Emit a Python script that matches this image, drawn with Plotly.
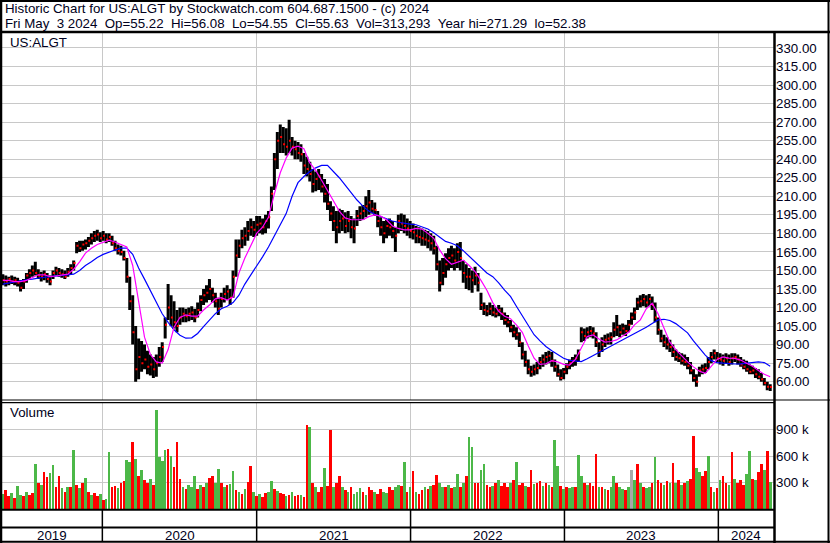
import plotly.graph_objects as go
import pandas as pd

# ---------------- data (weekly) ----------------
START_WEEK = "2019-05-10"

HIGH = [
    147, 146, 145, 146, 145, 144, 142, 143, 148, 151,
    154, 157, 151, 149, 150, 148, 146, 150, 153, 152,
    151, 150, 152, 155, 158, 173, 174, 174, 175, 177,
    180, 182, 183, 181, 182, 180, 180, 178, 174, 171,
    170, 166, 160, 145, 130, 105, 95, 93, 90, 85,
    82, 80, 82, 88, 92, 112, 139, 130, 125, 118,
    120, 120, 119, 120, 121, 119, 124, 130, 135, 138,
    143, 136, 132, 128, 132, 136, 138, 135, 150, 175,
    175, 183, 185, 190, 192, 190, 194, 194, 192, 195,
    198, 218, 245, 262, 268, 266, 265, 272, 258, 255,
    254, 252, 245, 242, 238, 232, 230, 232, 228, 224,
    220, 206, 202, 198, 200, 199, 197, 198, 194, 192,
    199, 202, 203, 210, 215, 207, 205, 198, 193, 190,
    191, 192, 190, 185, 195, 196, 195, 192, 190, 188,
    186, 185, 184, 183, 182, 180, 178, 170, 158, 160,
    164, 168, 170, 168, 172, 173, 158, 155, 152, 150,
    153, 148, 132, 124, 122, 124, 122, 120, 122, 120,
    116, 114, 110, 106, 104, 100, 92, 85, 78, 73,
    74, 76, 80, 82, 84, 85, 84, 78, 74, 70,
    71, 75, 78, 80, 82, 86, 104, 103, 104, 105,
    104, 100, 92, 96, 98, 99, 100, 108, 114, 106,
    107, 106, 110, 116, 120, 128, 130, 131, 130, 131,
    129, 124, 112, 102, 98, 96, 94, 90, 86, 84,
    83, 82, 80, 76, 70, 66, 72, 74, 75, 80,
    84, 86, 84, 83, 82, 83, 82, 83, 83, 82,
    80, 78, 77, 74, 73, 71, 70, 67, 63, 60,
    58,
]

LOW = [
    138, 137, 138, 139, 138, 137, 133, 135, 140, 143,
    145, 146, 143, 141, 142, 140, 138, 143, 146, 145,
    144, 143, 145, 147, 150, 164, 165, 166, 167, 169,
    171, 173, 174, 173, 174, 172, 173, 170, 166, 163,
    162, 158, 140, 118, 90, 60, 62, 68, 70, 66,
    65, 63, 64, 72, 76, 95, 110, 105, 103, 100,
    106, 108, 108, 109, 110, 108, 112, 117, 122, 124,
    126, 124, 120, 114, 120, 124, 126, 122, 128, 145,
    160, 168, 170, 174, 178, 177, 178, 180, 179, 180,
    184, 198, 215, 232, 245, 245, 243, 245, 243, 240,
    240, 238, 228, 226, 222, 213, 214, 215, 213, 205,
    199, 190, 182, 172, 180, 182, 180, 181, 176, 172,
    186, 190, 191, 193, 195, 196, 194, 185, 178, 172,
    176, 178, 176, 165, 180, 182, 180, 178, 176, 175,
    172, 172, 170, 170, 168, 166, 163, 150, 133, 138,
    144, 150, 152, 150, 152, 150, 140, 135, 134, 132,
    138, 133, 118, 114, 113, 114, 113, 112, 113, 110,
    106, 104, 100, 96, 94, 88, 78, 72, 66, 64,
    65, 66, 70, 72, 74, 75, 72, 68, 64, 61,
    62, 66, 70, 72, 73, 76, 92, 93, 95, 96,
    95, 88, 80, 84, 88, 90, 90, 96, 97, 96,
    98, 97, 100, 106, 110, 118, 120, 121, 120, 121,
    118, 108, 98, 92, 88, 86, 84, 80, 77, 76,
    74, 73, 70, 66, 60, 56, 64, 66, 67, 70,
    75, 78, 76, 74, 73, 75, 73, 74, 76, 74,
    72, 70, 68, 66, 66, 63, 62, 60, 57, 53,
    52.38,
]

CLOSE = [
    142, 141, 143, 141, 142, 140, 136, 141, 146, 148,
    150, 148, 146, 145, 147, 143, 141, 148, 150, 148,
    147, 145, 149, 152, 156, 170, 168, 171, 172, 174,
    176, 178, 179, 176, 178, 175, 177, 172, 168, 166,
    165, 160, 145, 125, 100, 70, 80, 75, 78, 72,
    74, 70, 75, 80, 88, 106, 120, 112, 108, 105,
    112, 115, 113, 115, 116, 112, 118, 126, 130, 132,
    135, 130, 125, 119, 127, 131, 133, 128, 145, 162,
    170, 176, 178, 182, 185, 183, 187, 188, 185, 190,
    193, 212, 240, 255, 258, 252, 250, 255, 250, 248,
    245, 244, 235, 232, 228, 220, 224, 226, 218, 212,
    204, 196, 190, 185, 190, 192, 186, 190, 185, 184,
    194, 196, 198, 202, 205, 200, 199, 190, 185, 180,
    186, 185, 182, 178, 190, 188, 186, 184, 182, 181,
    178, 177, 176, 175, 174, 172, 168, 155, 140, 148,
    155, 160, 162, 158, 165, 160, 148, 145, 145, 142,
    146, 140, 122, 118, 117, 119, 116, 115, 118, 115,
    110, 108, 104, 100, 98, 92, 82, 76, 70, 68,
    70, 71, 76, 78, 80, 81, 77, 72, 66, 63,
    68, 72, 75, 77, 79, 83, 100, 97, 100, 101,
    99, 92, 85, 90, 94, 95, 96, 102, 104, 100,
    103, 101, 106, 112, 116, 124, 125, 127, 124, 127,
    122, 112, 102, 95, 92, 90, 88, 84, 80, 79,
    77, 76, 73, 69, 63, 60, 69, 70, 71, 76,
    80, 83, 79, 78, 77, 79, 76, 79, 80, 78,
    74, 72, 70, 68, 69, 66, 64, 62, 59, 56,
    55.63,
]

# moving averages, read every second week
MA_SHORT = [
    142, 142, 141, 141, 142, 144, 146.5, 146.5, 145, 145.5,
    146.5, 147, 151, 157, 164, 168, 171, 173, 174.5, 173,
    171, 169, 154, 125, 96, 82, 76, 75, 86, 104,
    112, 114, 113, 113, 118, 122, 127, 128, 126, 128.5,
    148, 160, 170, 180, 185, 193, 212, 229, 241, 249,
    250.5, 248.5, 237, 231, 223, 215, 206, 198, 192.5, 191,
    191, 191, 193.5, 195, 194, 191, 186, 184, 182.8, 182.8,
    184, 183.5, 180, 176, 166.6, 159.5, 155, 156.5, 158.4, 154,
    149, 142, 134, 124, 117, 113, 111, 106, 100, 89,
    79, 74, 74.5, 77, 76, 74, 73.5, 78, 87, 96.5,
    97.8, 94.5, 92, 92.5, 93.8, 97, 100, 106, 110, 119,
    123.5, 115, 103, 92, 86, 81, 76, 72, 68.5, 66.8,
    72, 78, 80, 79, 78.8, 77.5, 75, 72.5, 69, 66,
    64,
]

MA_LONG = [
    139, 140, 141, 142, 142.5, 143, 144, 144.5, 145, 145.5,
    146, 146.2, 147, 150, 154, 157, 160.5, 163, 165, 166.5,
    168, 168, 163, 152, 143, 134, 124, 115, 108, 102,
    97.6, 95.2, 95.5, 99, 104.5, 110, 115, 119, 121, 124,
    130, 139, 146, 153, 161, 169, 178, 186, 196, 210,
    221, 226, 230, 233, 235, 235, 230, 225, 219, 213,
    207, 202, 198, 195.5, 193.5, 191.5, 190, 189, 188, 187.5,
    187, 185.5, 183.5, 180.5, 177, 173.5, 172, 170, 166, 161.5,
    157, 152, 148, 145, 140, 134, 129, 121, 113, 105,
    98, 93, 88.5, 85, 82, 79, 77.3, 76.5, 76.3, 78.5,
    81, 83.5, 86, 88.5, 91, 93.5, 96, 98.5, 101, 104,
    107, 110, 110.5, 109.5, 107, 103.5, 99.5, 93, 87.5, 81.5,
    77, 75.5, 75, 74.5, 74.3, 74.5, 74.9, 75.5, 76, 75.5,
    72.5,
]

# volume in thousands (weekly peak) and bar direction (u=up, d=down, n=unchanged)
VOLUME_K = [
    180, 226, 150, 190, 130, 264, 170, 150, 200, 160,
    190, 516, 300, 280, 422, 365, 415, 505, 260, 377,
    240, 200, 250, 260, 679, 280, 240, 300, 354, 200,
    160, 190, 150, 180, 110, 120, 648, 250, 262, 240,
    300, 328, 566, 540, 762, 573, 385, 452, 330, 300,
    350, 280, 1131, 592, 554, 679, 686, 611, 479, 769,
    347, 260, 230, 280, 250, 385, 230, 280, 250, 300,
    360, 385, 300, 460, 300, 250, 280, 290, 441, 220,
    200, 180, 230, 317, 490, 200, 150, 180, 140, 190,
    200, 328, 230, 210, 190, 180, 150, 160, 200, 150,
    170, 160, 140, 961, 931, 300, 250, 200, 250, 467,
    270, 905, 250, 300, 385, 260, 220, 200, 250, 180,
    200, 240, 200, 170, 250, 220, 200, 180, 230, 200,
    190, 250, 220, 260, 280, 270, 543, 200, 250, 441,
    200, 180, 220, 250, 230, 270, 280, 392, 300, 260,
    250, 280, 240, 250, 403, 260, 300, 377, 818, 705,
    300, 300, 452, 516, 280, 250, 270, 300, 330, 270,
    300, 250, 300, 330, 535, 280, 300, 270, 250, 452,
    290, 300, 320, 270, 300, 280, 260, 792, 498, 270,
    230, 250, 240, 260, 250, 618, 380, 300, 280, 300,
    270, 630, 260, 250, 230, 220, 250, 385, 300, 250,
    230, 220, 250, 450, 330, 516, 300, 260, 240, 250,
    300, 600, 330, 300, 280, 320, 300, 528, 300, 330,
    280, 300, 320, 350, 837, 467, 420, 380, 441, 611,
    250, 200, 240, 330, 380, 300, 280, 648, 350, 300,
    330, 280, 400, 667, 350, 330, 420, 516, 450, 660,
    317,
]

VOL_DIR = (
    "udduduudud dududduudd ududududud udduduuddu dduudududd "
    "uduuuududd duduuududu dduududuud ududdududd uududdudud "
    "duddududdu dduddududu uududduddu udduududud uddududduu "
    "duduududuu dduuddudud ddududdudd uddududuud uduuduudud "
    "ddududuudu udunududuu duddududud ududduuddu dududdudud "
    "dduududdud u"
)

PRICE_TICKS = [60, 75, 90, 105, 120, 135, 150, 165, 180, 195,
               210, 225, 240, 255, 270, 285, 300, 315, 330]
VOL_TICKS = [300000, 600000, 900000]
VOL_TICK_TEXT = ["300 k", "600 k", "900 k"]
YEAR_STARTS = ["2020-01-01", "2021-01-01", "2022-01-01", "2023-01-01", "2024-01-01"]
YEAR_LABELS = ["2019", "2020", "2021", "2022", "2023", "2024"]
X_RANGE = ["2019-05-08", "2024-05-12"]

HEADER_1 = "Historic Chart for US:ALGT by Stockwatch.com 604.687.1500 - (c) 2024"
HEADER_2 = ("Fri May  3 2024  Op=55.22  Hi=56.08  Lo=54.55  Cl=55.63  "
            "Vol=313,293  Year hi=271.29  lo=52.38")

# ---------------- figure ----------------
W, H = 830, 543


def px(x):
    return x / W


def py(y):
    return 1 - y / H


n = len(CLOSE)
dates = pd.date_range(START_WEEK, periods=n, freq="7D")

bx, by = [], []
for d, lo, hi in zip(dates, LOW, HIGH):
    bx += [d, d, None]
    by += [lo, hi, None]

dirs = (VOL_DIR.replace(" ", "") + "u" * n)[:n]
col_map = {"u": "#4cb848", "d": "#ff0000", "n": "#a8a8a8"}
vol_colors = [col_map[c] for c in dirs]

FONT = "Arial, 'Liberation Sans', sans-serif"
TXT = "#000020"
FS = 13.3

fig = go.Figure()
fig.add_trace(go.Scatter(x=bx, y=by, mode="lines", line=dict(color="black", width=3),
                         hoverinfo="skip", xaxis="x", yaxis="y"))
fig.add_trace(go.Scatter(x=dates + pd.Timedelta(days=2), y=CLOSE, mode="markers",
                         marker=dict(symbol="square", size=2, color="#ff0000", line=dict(width=0)),
                         hoverinfo="skip", xaxis="x", yaxis="y"))
fig.add_trace(go.Scatter(x=dates[::2][:len(MA_LONG)], y=MA_LONG, mode="lines",
                         line=dict(color="#0000ff", width=1.2), hoverinfo="skip",
                         xaxis="x", yaxis="y"))
fig.add_trace(go.Scatter(x=dates[::2][:len(MA_SHORT)], y=MA_SHORT, mode="lines",
                         line=dict(color="#ff00ff", width=1.2), hoverinfo="skip",
                         xaxis="x", yaxis="y"))
fig.add_trace(go.Bar(x=dates, y=[v * 1000 for v in VOLUME_K], marker=dict(color=vol_colors, line=dict(width=0)),
                     width=6.2 * 86400000, hoverinfo="skip", xaxis="x2", yaxis="y2"))

grid = "#c8c8c8"
xcommon = dict(type="date", range=X_RANGE, tickmode="array", tickvals=YEAR_STARTS,
               showticklabels=False, ticks="", showgrid=True, gridcolor=grid, gridwidth=1,
               zeroline=False, showline=False, domain=[px(2), px(774)])

fig.update_layout(
    width=W, height=H, margin=dict(l=0, r=0, t=0, b=0),
    paper_bgcolor="white", plot_bgcolor="white", showlegend=False, hovermode=False,
    bargap=0,
    xaxis=dict(anchor="y", **xcommon),
    xaxis2=dict(anchor="y2", matches="x", **xcommon),
    yaxis=dict(domain=[py(399.5), py(33)], range=[45.6, 342.1], side="right", anchor="x",
               tickmode="array", tickvals=PRICE_TICKS, ticktext=[f"{v:.2f}" for v in PRICE_TICKS],
               showgrid=True, gridcolor=grid, gridwidth=1, ticks="", zeroline=False,
               showline=False, tickfont=dict(family=FONT, size=FS, color=TXT),
               ticklabelstandoff=1),
    yaxis2=dict(domain=[py(509.3), py(402.7)], range=[0, 1.205e6], side="right", anchor="x2",
                tickmode="array", tickvals=VOL_TICKS, ticktext=VOL_TICK_TEXT,
                showgrid=True, gridcolor=grid, gridwidth=1, ticks="", zeroline=False,
                showline=False, tickfont=dict(family=FONT, size=FS, color=TXT),
                ticklabelstandoff=1),
)

shapes = []


def hline(y, x0, x1, w=2):
    shapes.append(dict(type="line", xref="paper", yref="paper", x0=px(x0), x1=px(x1),
                       y0=py(y), y1=py(y), line=dict(color="black", width=w)))


def vline(x, y0, y1, w=2):
    shapes.append(dict(type="line", xref="paper", yref="paper", x0=px(x), x1=px(x),
                       y0=py(y0), y1=py(y1), line=dict(color="black", width=w)))


hline(1, 0, 830, 2)
hline(32, 0, 830, 2.5)
hline(400, 0, 830, 1.2)
hline(402.6, 0, 774, 1.2)
hline(509.8, 0, 774, 2)
hline(527.5, 0, 774, 2)
hline(541.8, 0, 830, 2)
vline(1, 0, 543, 2.5)
vline(828.5, 0, 543, 2)
vline(774.5, 32, 543, 2.5)
for ys in YEAR_STARTS:
    shapes.append(dict(type="line", xref="x", yref="paper", x0=ys, x1=ys,
                       y0=py(509.8), y1=py(541.8), line=dict(color="black", width=1.5)))
fig.update_layout(shapes=shapes)

nb = "\u00a0"
ann = [
    dict(text=HEADER_1.replace(" ", nb), x=px(3), y=py(9)),
    dict(text=HEADER_2.replace(" ", nb), x=px(3), y=py(23)),
    dict(text="US:ALGT", x=px(8), y=py(42)),
    dict(text="Volume", x=px(8), y=py(413)),
]
annotations = []
for a in ann:
    annotations.append(dict(xref="paper", yref="paper", xanchor="left", yanchor="middle",
                            showarrow=False, font=dict(family=FONT, size=FS, color=TXT), **a))

bounds = [pd.Timestamp(X_RANGE[0])] + [pd.Timestamp(s) for s in YEAR_STARTS] + [pd.Timestamp(X_RANGE[1])]
for lab, a, b in zip(YEAR_LABELS, bounds[:-1], bounds[1:]):
    annotations.append(dict(xref="x", yref="paper", x=a + (b - a) / 2, y=py(535),
                            xanchor="center", yanchor="middle", text=lab, showarrow=False,
                            font=dict(family=FONT, size=FS, color=TXT)))
fig.update_layout(annotations=annotations)

fig.write_html("out.html", config={"displayModeBar": False},
               post_script="document.body.style.margin='0px';document.body.style.overflow='hidden';")
